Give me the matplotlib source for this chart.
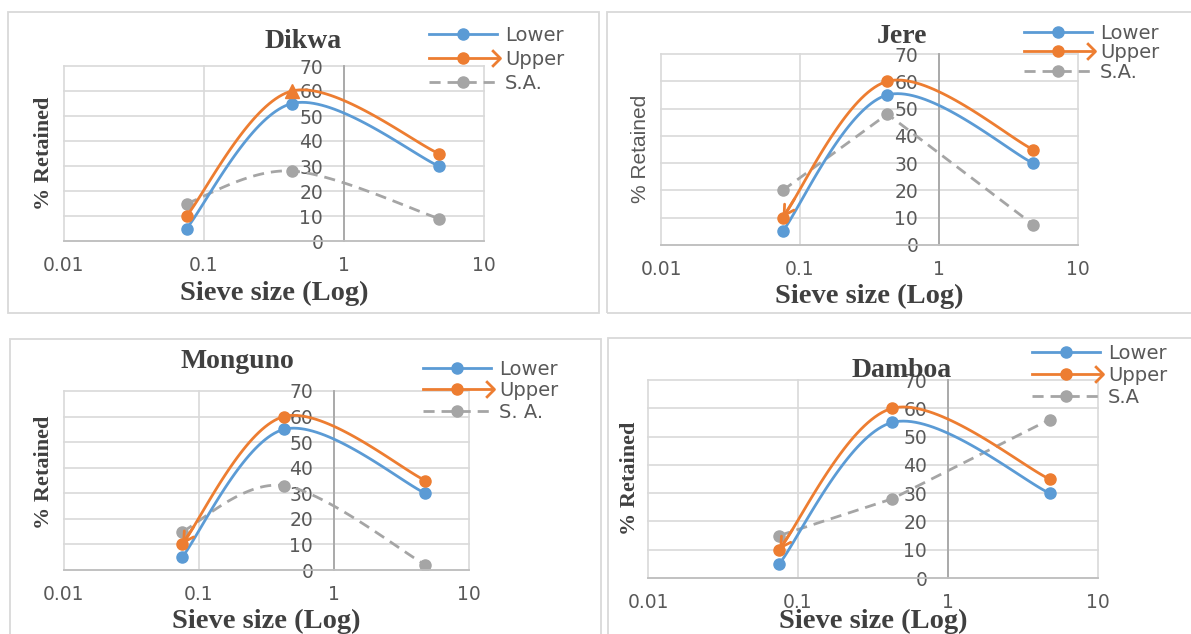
import numpy as np
import matplotlib
matplotlib.use("Agg")
import matplotlib.pyplot as plt
from matplotlib.lines import Line2D
from matplotlib.legend_handler import HandlerLine2D
from matplotlib.path import Path
from matplotlib.patches import Rectangle
from matplotlib.ticker import NullLocator

W, H = 1191, 634

# ---------------- data ----------------
sieve_sizes = [0.075, 0.425, 4.75]
lower = [5, 55, 30]
upper = [10, 60, 35]
sa_dikwa = [15, 28, 9]
sa_jere = [20, 48, 7.5]
sa_monguno = [15, 33, 2]
sa_damboa = [15, 28, 56]
titles = ["Dikwa", "Jere", "Monguno", "Damboa"]
sa_labels = ["S.A.", "S.A.", "S. A.", "S.A"]
x_ticks = [0.01, 0.1, 1, 10]
x_tick_labels = ["0.01", "0.1", "1", "10"]
y_ticks = [0, 10, 20, 30, 40, 50, 60, 70]
x_label = "Sieve size (Log)"
y_label = "% Retained"
legend_lower = "Lower"
legend_upper = "Upper"

BLUE = "#5B9BD5"
ORANGE = "#ED7D31"
GRAY = "#A5A5A5"
GRID = "#D9D9D9"
TXT = "#595959"
DARK = "#404040"

# ---------------- layout (pixels) ----------------
panels = [
    dict(title=titles[0], sa=sa_dikwa, sa_label=sa_labels[0], sa_smooth=True,
         box=(64, 66, 484, 241), frame=(8, 12, 599, 313),
         title_xy=(303, 48), xlabel_xy=(274, 300), ylabel_xy=(44, 153), ylabel_sans=False,
         leg=(429, 35, 23.5), arrow=False, peak_triangle=True),
    dict(title=titles[1], sa=sa_jere, sa_label=sa_labels[1], sa_smooth=False,
         box=(661, 54, 1078, 245), frame=(607, 12, 1195, 313),
         title_xy=(902, 43), xlabel_xy=(869, 303), ylabel_xy=(640, 149), ylabel_sans=True,
         leg=(1024, 33, 19), arrow=True, peak_triangle=False),
    dict(title=titles[2], sa=sa_monguno, sa_label=sa_labels[2], sa_smooth=True,
         box=(64, 391, 469, 570), frame=(10, 339, 601, 640),
         title_xy=(237, 368), xlabel_xy=(266, 628), ylabel_xy=(44, 472), ylabel_sans=False,
         leg=(423, 369, 21), arrow=True, peak_triangle=False),
    dict(title=titles[3], sa=sa_damboa, sa_label=sa_labels[3], sa_smooth=False,
         box=(648, 380, 1098, 578), frame=(608, 338, 1195, 640),
         title_xy=(902, 377), xlabel_xy=(873, 628), ylabel_xy=(630, 478), ylabel_sans=False,
         leg=(1032, 353, 21.5), arrow=True, peak_triangle=False),
]

N_SEG = 40


def smooth(x, y, n=N_SEG):
    """Excel-like smoothed line (Catmull-Rom Bezier) in log-x space."""
    pts = np.column_stack([np.log10(x), np.asarray(y, float)])
    P = np.vstack([pts[0], pts, pts[-1]])
    out = []
    t = np.linspace(0, 1, n)[:, None]
    for i in range(1, len(P) - 2):
        p0, p1, p2, p3 = P[i - 1], P[i], P[i + 1], P[i + 2]
        c1 = p1 + (p2 - p0) / 6.0
        c2 = p2 - (p3 - p1) / 6.0
        seg = ((1 - t) ** 3) * p1 + 3 * ((1 - t) ** 2) * t * c1 + 3 * (1 - t) * t ** 2 * c2 + t ** 3 * p2
        out.append(seg if i == 1 else seg[1:])
    s = np.vstack(out)
    return 10 ** s[:, 0], s[:, 1]


arrow_path = Path([(-1, 1), (0, 0), (-1, -1)], [Path.MOVETO, Path.LINETO, Path.LINETO])


class ArrowHandler(HandlerLine2D):
    def create_artists(self, legend, orig_handle, xdescent, ydescent, width, height, fontsize, trans):
        arts = super().create_artists(legend, orig_handle, xdescent, ydescent, width, height, fontsize, trans)
        y = (height - ydescent) / 2
        head = Line2D([width - xdescent + 2], [y], ls="none", marker=arrow_path, ms=12,
                      mfc="none", mec=orig_handle.get_color(), mew=2)
        head.set_transform(trans)
        return arts + [head]


def px_rect(l, t, r, b):
    return [l / W, 1 - b / H, (r - l) / W, (b - t) / H]


fig = plt.figure(figsize=(W / 100, H / 100), dpi=100)
fig.patch.set_facecolor("white")

for p in panels:
    l, t, r, b = p["frame"]
    fig.patches.append(Rectangle((l / W, 1 - b / H), (r - l) / W, (b - t) / H,
                                 transform=fig.transFigure, fill=False,
                                 edgecolor=GRID, lw=1.3, zorder=0))

    ax = fig.add_axes(px_rect(*p["box"]))
    ax.set_facecolor("none")
    ax.set_xscale("log")
    ax.set_xlim(0.01, 10)
    ax.set_ylim(0, 70)
    ax.set_xticks(x_ticks)
    ax.set_xticklabels(x_tick_labels)
    ax.xaxis.set_minor_locator(NullLocator())
    ax.set_yticks(y_ticks)
    ax.grid(True, color=GRID, lw=1.2, clip_on=False)
    ax.set_axisbelow(True)
    ax.spines["top"].set_visible(False)
    ax.spines["right"].set_visible(False)
    ax.spines["left"].set_position(("data", 1))
    ax.spines["left"].set_color("#A6A6A6")
    ax.spines["left"].set_linewidth(1.3)
    ax.spines["bottom"].set_color("#BFBFBF")
    ax.spines["bottom"].set_linewidth(1.3)
    ax.tick_params(length=0, labelsize=13.5, labelcolor=TXT)
    ax.tick_params(axis="y", pad=15)
    ax.tick_params(axis="x", pad=11)

    marks = [0, N_SEG - 1, 2 * (N_SEG - 1)]
    xs, ys = smooth(sieve_sizes, lower)
    l_low, = ax.plot(xs, ys, color=BLUE, lw=2.0, marker="o", ms=8, markevery=marks,
                     label=legend_lower, zorder=3)
    xs_u, ys_u = smooth(sieve_sizes, upper)
    up_marks = [0, 2 * (N_SEG - 1)] if p["peak_triangle"] else marks
    l_up, = ax.plot(xs_u, ys_u, color=ORANGE, lw=2.0, marker="o", ms=8, markevery=up_marks,
                    label=legend_upper, zorder=4)
    if p["peak_triangle"]:
        ax.plot([sieve_sizes[1]], [upper[1]], ls="none", marker="^", ms=10, color=ORANGE, zorder=5)
    if p["arrow"]:
        ax.annotate("", xy=(xs_u[0], ys_u[0]), xytext=(xs_u[7], ys_u[7]),
                    arrowprops=dict(arrowstyle="->,head_length=0.7,head_width=0.4",
                                    color=ORANGE, lw=2, shrinkA=0, shrinkB=0), zorder=5)
    if p["sa_smooth"]:
        xs_s, ys_s = smooth(sieve_sizes, p["sa"])
        l_sa, = ax.plot(xs_s, ys_s, color=GRAY, lw=2.0, ls=(0, (4, 2.5)), marker="o", ms=8,
                        markevery=marks, label=p["sa_label"], zorder=2)
    else:
        l_sa, = ax.plot(sieve_sizes, p["sa"], color=GRAY, lw=2.0, ls=(0, (4, 2.5)), marker="o",
                        ms=8, label=p["sa_label"], zorder=2)

    lx, ly, pitch = p["leg"]
    fs = 14
    fpx = fs * 100 / 72
    th = 0.95 * fpx
    ls = (pitch - th) / fpx
    leg = ax.legend(handles=[l_low, l_up, l_sa], loc="upper left",
                    bbox_to_anchor=(lx / W, 1 - (ly - th / 2) / H),
                    bbox_transform=fig.transFigure, frameon=False, fontsize=fs,
                    handlelength=68 / fpx, handletextpad=8 / fpx, labelspacing=ls,
                    borderpad=0, borderaxespad=0, numpoints=1,
                    handler_map={l_up: ArrowHandler()})
    for txt in leg.get_texts():
        txt.set_color(TXT)

    tx, ty = p["title_xy"]
    fig.text(tx / W, 1 - ty / H, p["title"], ha="center", va="baseline", fontsize=20,
             fontweight="bold", family="Liberation Serif", color=DARK)
    xx, xy = p["xlabel_xy"]
    fig.text(xx / W, 1 - xy / H, x_label, ha="center", va="baseline", fontsize=20.5,
             fontweight="bold", family="Liberation Serif", color=DARK)
    yx, yy = p["ylabel_xy"]
    if p["ylabel_sans"]:
        fig.text(yx / W, 1 - yy / H, y_label, ha="center", va="center", rotation=90,
                 fontsize=15, family="Liberation Sans", color=TXT)
    else:
        fig.text(yx / W, 1 - yy / H, y_label, ha="center", va="center", rotation=90,
                 fontsize=16, fontweight="bold", family="Liberation Serif", color=DARK)

fig.savefig("out.png", dpi=100)
